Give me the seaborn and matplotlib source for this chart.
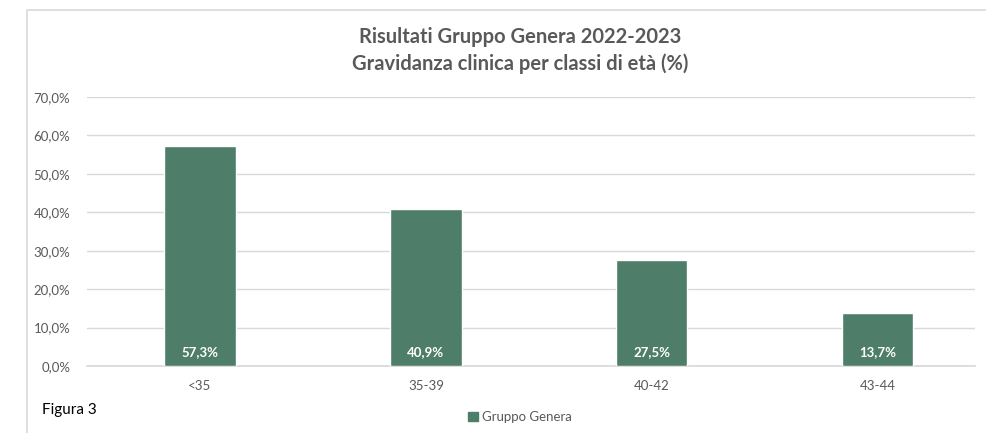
import matplotlib
matplotlib.use("Agg")
import matplotlib.pyplot as plt
import matplotlib.patches as mpatches
from matplotlib.ticker import FuncFormatter
import seaborn as sns
import pandas as pd

# data
categories = ["<35", "35-39", "40-42", "43-44"]
values = [57.3, 40.9, 27.5, 13.7]
series_name = "Gruppo Genera"

BAR = "#4E7D6A"
GREY = "#595959"
GRID = "#D9D9D9"

sns.set_theme(style="white")
plt.rcParams["font.family"] = ["Lato", "DejaVu Sans"]

df = pd.DataFrame({"classe": categories, "valore": values})

fig = plt.figure(figsize=(9.86, 4.33), dpi=100)
ax = fig.add_axes([87 / 986, 1 - 366 / 433, (975 - 87) / 986, (366 - 97) / 433])

sns.barplot(data=df, x="classe", y="valore", color=BAR, width=0.315,
            saturation=1, ax=ax, zorder=3)

ax.set_ylim(0, 70)
ax.set_xlim(-0.5, 3.43)
ax.set_yticks(range(0, 71, 10))
ax.yaxis.set_major_formatter(FuncFormatter(lambda v, p: f"{v:.1f}%".replace(".", ",")))
ax.grid(axis="y", color=GRID, linewidth=1, zorder=0)
for s in ["top", "right", "left"]:
    ax.spines[s].set_visible(False)
ax.spines["bottom"].set_color(GRID)
ax.tick_params(axis="both", length=0, colors=GREY, labelsize=9.5)
ax.tick_params(axis="x", pad=10)
ax.tick_params(axis="y", pad=12)
ax.set_xlabel("")
ax.set_ylabel("")

for i, v in enumerate(values):
    ax.text(i, 3.5, f"{v:.1f}%".replace(".", ","), ha="center", va="center",
            color="white", fontsize=9.5, fontweight="bold", zorder=4)

fig.text(520 / 986, 1 - 37 / 433, "Risultati Gruppo Genera 2022-2023",
         ha="center", va="center", fontsize=14.5, fontweight="bold", color=GREY)
fig.text(520 / 986, 1 - 64 / 433, "Gravidanza clinica per classi di età (%)",
         ha="center", va="center", fontsize=14.5, fontweight="bold", color=GREY)

fig.text(42 / 986, 1 - 410 / 433, "Figura 3", ha="left", va="center",
         fontsize=11, color="black")

handle = mpatches.Patch(color=BAR, label=series_name)
fig.legend(handles=[handle], loc="center", bbox_to_anchor=(520 / 986, 1 - 417 / 433),
           frameon=False, fontsize=9.5, handlelength=0.7, handleheight=0.7,
           handletextpad=0.3, labelcolor=GREY)

# chart border (left and top edges visible)
fig.add_artist(mpatches.Rectangle((27 / 986, -0.1), 1.0, 1 - 10 / 433 + 0.1,
                                  transform=fig.transFigure, fill=False,
                                  edgecolor=GRID, linewidth=1.2))

fig.savefig("out.png", dpi=100)
plt.close(fig)
